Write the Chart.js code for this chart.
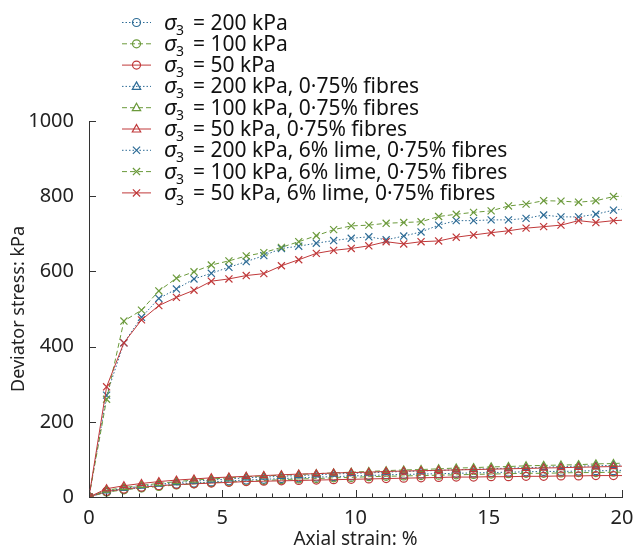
<!DOCTYPE html>
<html>
<head>
<meta charset="utf-8">
<script src="https://cdn.jsdelivr.net/npm/chart.js@4.4.1/dist/chart.umd.min.js"></script>
<style>
  html, body { margin: 0; padding: 0; background: #fff; }
</style>
</head>
<body>
<canvas id="grafik" width="636" height="547"></canvas>
<script>
// Axial strain (%) of each reading
const strain = [0, 0.66, 1.31, 1.97, 2.62, 3.28, 3.94, 4.59, 5.25, 5.9, 6.56, 7.22, 7.87, 8.53, 9.18, 9.84,
  10.5, 11.15, 11.81, 12.46, 13.12, 13.78, 14.43, 15.09, 15.74, 16.4, 17.06, 17.71, 18.37, 19.02, 19.68, 20];

// Deviator stress (kPa)
const s200 = [0, 14, 20, 25, 30, 34, 37, 40, 43, 45, 47, 49, 51, 53, 54, 56, 57, 59, 60, 61, 62, 63, 64, 65, 66, 67, 68, 68, 69, 70, 70, 71];
const s100 = [0, 13, 19, 24, 28, 32, 35, 38, 40, 42, 44, 46, 48, 49, 51, 52, 54, 55, 56, 57, 58, 59, 60, 61, 62, 63, 63, 64, 65, 65, 66, 66];
const s50 = [0, 15, 21, 26, 30, 33, 35, 37, 39, 41, 42, 43, 44, 45, 46, 47, 48, 49, 50, 51, 52, 53, 53, 54, 54, 55, 55, 56, 56, 57, 57, 57];
const s200f = [0, 16, 23, 29, 34, 38, 42, 45, 48, 51, 53, 55, 57, 59, 61, 63, 64, 66, 68, 69, 71, 72, 74, 75, 77, 78, 79, 81, 82, 83, 84, 85];
const s100f = [0, 18, 25, 31, 36, 41, 45, 48, 51, 54, 56, 58, 60, 62, 64, 66, 68, 70, 72, 73, 75, 77, 78, 80, 81, 83, 84, 85, 86, 88, 89, 90];
const s50f = [0, 22, 30, 36, 41, 45, 48, 51, 53, 55, 57, 59, 61, 62, 64, 65, 66, 68, 69, 70, 71, 72, 73, 74, 75, 76, 77, 78, 79, 80, 81, 82];
const s200l = [0, 271, 410, 478, 528, 553, 580, 595, 611, 626, 642, 661, 667, 675, 682, 688, 692, 684, 694, 705, 723, 735, 735, 737, 737, 741, 750, 745, 745, 752, 763, 765];
const s100l = [0, 260, 468, 497, 548, 582, 599, 617, 628, 641, 650, 664, 679, 695, 711, 721, 723, 728, 730, 732, 746, 752, 757, 761, 774, 779, 788, 787, 784, 788, 799, 800];
const s50l = [0, 293, 410, 471, 509, 531, 550, 574, 580, 589, 594, 615, 631, 648, 656, 661, 668, 679, 673, 679, 681, 691, 697, 703, 708, 715, 719, 723, 735, 730, 735, 736];

const legendTeks = [
  '= 200 kPa', '= 100 kPa', '= 50 kPa',
  '= 200 kPa, 0·75% fibres', '= 100 kPa, 0·75% fibres', '= 50 kPa, 0·75% fibres',
  '= 200 kPa, 6% lime, 0·75% fibres', '= 100 kPa, 6% lime, 0·75% fibres', '= 50 kPa, 6% lime, 0·75% fibres'
];

const xTicks = [0, 5, 10, 15, 20];
const yTicks = [0, 200, 400, 600, 800, 1000];

const BIRU = '#2e6c96';
const HIJAU = '#6b9a3b';
const MERAH = '#c0393a';
const FONT = "'Noto Sans', 'Open Sans', sans-serif";

const gaya = {
  biru: { color: BIRU, dash: [1.5, 2] },
  hijau: { color: HIJAU, dash: [5, 3] },
  merah: { color: MERAH, dash: [] }
};

function buatDataset(label, values, g, marker, urutan) {
  return {
    label: label,
    data: strain.map((s, i) => ({ x: s, y: values[i] })),
    borderColor: g.color,
    borderWidth: 1,
    borderDash: g.dash,
    backgroundColor: 'rgba(0,0,0,0)',
    pointBorderColor: g.color,
    pointBackgroundColor: 'rgba(0,0,0,0)',
    pointBorderWidth: 1.2,
    pointStyle: marker,
    pointRadius: ctx => (ctx.dataIndex === strain.length - 1 ? 0 : (marker === 'crossRot' ? 5 : 4)),
    tension: 0,
    order: urutan
  };
}

const datasets = [
  buatDataset(legendTeks[0], s200, gaya.biru, 'circle', 9),
  buatDataset(legendTeks[1], s100, gaya.hijau, 'circle', 8),
  buatDataset(legendTeks[2], s50, gaya.merah, 'circle', 7),
  buatDataset(legendTeks[3], s200f, gaya.biru, 'triangle', 6),
  buatDataset(legendTeks[4], s100f, gaya.hijau, 'triangle', 5),
  buatDataset(legendTeks[5], s50f, gaya.merah, 'triangle', 4),
  buatDataset(legendTeks[6], s200l, gaya.biru, 'crossRot', 3),
  buatDataset(legendTeks[7], s100l, gaya.hijau, 'crossRot', 2),
  buatDataset(legendTeks[8], s50l, gaya.merah, 'crossRot', 1)
];

// tick ke dalam (inward) untuk kedua sumbu
const tickDalam = {
  id: 'tickDalam',
  afterDraw(chart) {
    const { ctx, chartArea: a, scales: { x, y } } = chart;
    ctx.save();
    ctx.strokeStyle = '#333';
    ctx.lineWidth = 1;
    ctx.beginPath();
    for (let v = 0; v <= 20.001; v += 0.625) {
      const px = Math.round(x.getPixelForValue(v)) + 0.5;
      const mayor = Math.abs(v / 5 - Math.round(v / 5)) < 1e-6;
      ctx.moveTo(px, a.bottom);
      ctx.lineTo(px, a.bottom - (mayor ? 7 : 3.5));
    }
    yTicks.forEach(v => {
      const py = Math.round(y.getPixelForValue(v)) + 0.5;
      ctx.moveTo(a.left, py);
      ctx.lineTo(a.left + 7, py);
    });
    ctx.stroke();
    ctx.restore();
  }
};

// legenda dengan sigma miring + subskrip
function gambarMarker(ctx, jenis, cx, cy) {
  ctx.beginPath();
  if (jenis === 'circle') {
    ctx.arc(cx, cy, 4, 0, Math.PI * 2);
  } else if (jenis === 'triangle') {
    ctx.moveTo(cx, cy - 4.5);
    ctx.lineTo(cx + 4.2, cy + 3);
    ctx.lineTo(cx - 4.2, cy + 3);
    ctx.closePath();
  } else {
    ctx.moveTo(cx - 3.6, cy - 3.6); ctx.lineTo(cx + 3.6, cy + 3.6);
    ctx.moveTo(cx + 3.6, cy - 3.6); ctx.lineTo(cx - 3.6, cy + 3.6);
  }
  ctx.stroke();
}

const legendaKustom = {
  id: 'legendaKustom',
  afterDraw(chart) {
    const ctx = chart.ctx;
    ctx.save();
    chart.data.datasets.forEach((ds, i) => {
      const yy = 22.5 + i * 21.3;
      ctx.strokeStyle = ds.borderColor;
      ctx.lineWidth = 1;
      ctx.setLineDash(ds.borderDash);
      ctx.beginPath();
      ctx.moveTo(122, yy);
      ctx.lineTo(151, yy);
      ctx.stroke();
      ctx.setLineDash([]);
      ctx.lineWidth = 1.2;
      gambarMarker(ctx, ds.pointStyle, 136.5, yy);

      ctx.fillStyle = '#111';
      ctx.textBaseline = 'alphabetic';
      ctx.textAlign = 'left';
      const base = yy + 7;
      ctx.font = 'italic 22px ' + FONT;
      ctx.fillText('σ', 164, base);
      ctx.font = '14px ' + FONT;
      ctx.fillText('3', 176, base + 5);
      ctx.font = '21px ' + FONT;
      ctx.fillText(ds.label, 193, base);
    });
    ctx.restore();
  }
};

new Chart(document.getElementById('grafik'), {
  type: 'line',
  data: { datasets: datasets },
  options: {
    responsive: false,
    devicePixelRatio: 1,
    animation: false,
    layout: { padding: { top: 121, right: 14, left: 0, bottom: 0 } },
    plugins: { legend: { display: false }, tooltip: { enabled: false } },
    scales: {
      x: {
        type: 'linear',
        min: 0, max: 20,
        afterBuildTicks: s => { s.ticks = xTicks.map(v => ({ value: v })); },
        afterFit: s => { s.height = 50; },
        ticks: { color: '#222', font: { family: FONT, size: 20 }, padding: 1, callback: v => String(v) },
        grid: { display: false },
        border: { display: true, color: '#333', width: 1 },
        title: { display: true, text: 'Axial strain: %', color: '#222', font: { family: FONT, size: 19 }, padding: { top: 0, bottom: -4 } }
      },
      y: {
        type: 'linear',
        min: 0, max: 1000,
        afterBuildTicks: s => { s.ticks = yTicks.map(v => ({ value: v })); },
        afterFit: s => { s.width = 89; },
        ticks: { color: '#222', font: { family: FONT, size: 20 }, padding: 7, callback: v => String(v) },
        grid: { display: false },
        border: { display: true, color: '#333', width: 1 },
        title: { display: true, text: 'Deviator stress: kPa', color: '#222', font: { family: FONT, size: 18 }, padding: { top: 8, bottom: 0 } }
      }
    }
  },
  plugins: [tickDalam, legendaKustom]
});
</script>
</body>
</html>
